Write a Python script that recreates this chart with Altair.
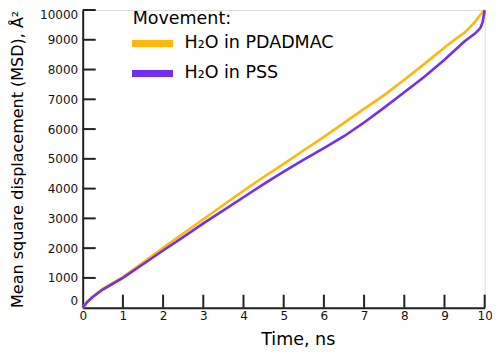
import altair as alt
import pandas as pd

# ---- data ----
time_ns = [0, 0.1, 0.25, 0.5, 1, 1.5, 2, 2.5, 3, 3.5, 4, 4.5, 5, 5.5, 6, 6.5,
           7, 7.5, 8, 8.5, 9, 9.25, 9.5, 9.75, 9.85, 9.9, 9.95, 10]
msd_pdadmac = [0, 190, 380, 640, 1030, 1520, 2010, 2490, 2970, 3450, 3930, 4390,
               4830, 5290, 5740, 6210, 6680, 7140, 7660, 8190, 8740, 9000, 9240,
               9580, 9770, 9850, 9930, 10000]
msd_pss = [0, 170, 360, 610, 1000, 1460, 1920, 2370, 2830, 3270, 3710, 4150,
           4570, 4970, 5360, 5760, 6220, 6720, 7240, 7760, 8330, 8640, 8950,
           9200, 9330, 9420, 9600, 9990]
series_names = ["H₂O in PDADMAC", "H₂O in PSS"]
series_colors = ["#FFB80A", "#7030F0"]
x_ticks = [0, 1, 2, 3, 4, 5, 6, 7, 8, 9, 10]
y_ticks = [0, 1000, 2000, 3000, 4000, 5000, 6000, 7000, 8000, 9000, 10000]

rows = []
for t, a, b in zip(time_ns, msd_pdadmac, msd_pss):
    rows.append({"time": t, "msd": a, "series": series_names[0]})
    rows.append({"time": t, "msd": b, "series": series_names[1]})
df = pd.DataFrame(rows)

W, H = 402, 297.7
FONT = "DejaVu Sans"
AXIS_COLOR = "#222222"
TICK_LEN = 13

x_scale = alt.Scale(domain=[0, 10], nice=False, zero=True)
y_scale = alt.Scale(domain=[0, 10000], nice=False, zero=True)

x_axis = alt.Axis(values=x_ticks, ticks=False, grid=False, labelPadding=3,
                  labelFontSize=12, labelColor="#111", labelFont=FONT,
                  labelFlush=False, labelOverlap=False, format="d",
                  domainColor=AXIS_COLOR, domainWidth=2,
                  title="Time, ns", titleFont=FONT, titleFontSize=17.5,
                  titleFontWeight="normal", titleColor="#000",
                  titleAnchor="start", titleAlign="center",
                  titleX=215, titleY=37, titleBaseline="alphabetic")
y_axis = alt.Axis(values=y_ticks, ticks=False, grid=False, labelPadding=5,
                  labelFontSize=12, labelColor="#111", labelFont=FONT,
                  labelFlush=True, labelOverlap=False, format="d",
                  domainColor=AXIS_COLOR, domainWidth=2,
                  title="Mean square displacement (MSD), Å²", titleFont=FONT,
                  titleFontSize=16, titleFontWeight="normal", titleColor="#000",
                  titleX=-60, titleY=H / 2, titleAlign="center",
                  titleBaseline="alphabetic", titleAngle=270)

lines = alt.Chart(df).mark_line(strokeWidth=2.6).encode(
    x=alt.X("time:Q", scale=x_scale, axis=x_axis),
    y=alt.Y("msd:Q", scale=y_scale, axis=y_axis),
    color=alt.Color("series:N",
                    scale=alt.Scale(domain=series_names, range=series_colors),
                    legend=alt.Legend(title="Movement:", orient="none",
                                      legendX=50, legendY=0,
                                      titleFont=FONT, titleFontSize=17.5,
                                      titleFontWeight="normal", titleColor="#000",
                                      labelFont=FONT, labelFontSize=17.5,
                                      labelColor="#000",
                                      symbolType="M-2,0H2",
                                      symbolStrokeWidth=7, symbolSize=420,
                                      symbolOffset=5.8,
                                      labelOffset=18, rowPadding=2,
                                      titlePadding=2)),
)

tick_df_x = pd.DataFrame({"time": x_ticks[1:]})
tick_df_y = pd.DataFrame({"msd": y_ticks[1:]})

xt = alt.Chart(tick_df_x).mark_rule(color=AXIS_COLOR, strokeWidth=2).encode(
    x=alt.X("time:Q", scale=x_scale, axis=x_axis),
    y=alt.value(H), y2=alt.value(H - TICK_LEN))

yt = alt.Chart(tick_df_y).mark_rule(color=AXIS_COLOR, strokeWidth=2).encode(
    y=alt.Y("msd:Q", scale=y_scale, axis=y_axis),
    x=alt.value(0), x2=alt.value(TICK_LEN))

chart = alt.layer(lines, xt, yt).properties(
    width=W, height=H,
    autosize=alt.AutoSizeParams(type="none"),
    padding={"left": 74.7, "top": 2, "right": 7, "bottom": 43},
).configure_view(stroke=None).configure(font=FONT)

chart.save("out.html", embed_options={"renderer": "svg", "actions": False})
